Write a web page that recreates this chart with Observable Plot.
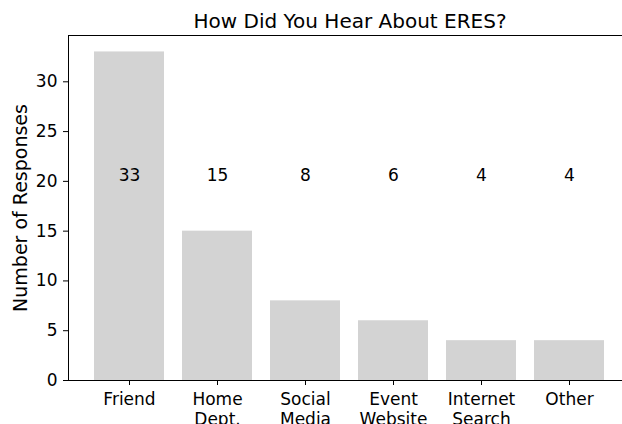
<!DOCTYPE html>
<html>
<head>
<meta charset="utf-8">
<script src="https://cdn.jsdelivr.net/npm/d3@7"></script>
<script src="https://cdn.jsdelivr.net/npm/@observablehq/plot@0.6"></script>
<style>
  html, body { margin: 0; padding: 0; background: white; }
  #wrap { width: 622px; height: 424px; overflow: hidden; }
  #wrap svg { max-width: none !important; }
</style>
</head>
<body>
<div id="wrap"></div>
<script>
const categories = ["Friend", "Home\nDept.", "Social\nMedia", "Event\nWebsite", "Internet\nSearch", "Other"];
const responses = [33, 15, 8, 6, 4, 4];
const yTicks = [0, 5, 10, 15, 20, 25, 30];
const labelLevel = 20;
const title = "How Did You Hear About ERES?";
const yLabel = "Number of Responses";

const data = categories.map((c, i) => ({category: c, count: responses[i]}));

const chart = Plot.plot({
  width: 640,
  height: 424,
  marginTop: 35,
  marginBottom: 44,
  marginLeft: 68,
  marginRight: 9,
  style: {fontFamily: "DejaVu Sans", fontSize: "17px", color: "black", background: "white", maxWidth: "none"},
  x: {type: "band", domain: categories, paddingInner: 0.2, paddingOuter: 0.29, label: null},
  y: {domain: [0, 34.65], label: null},
  marks: [
    Plot.barY(data, {x: "category", y: "count", fill: "#d3d3d3"}),
    Plot.text(data, {x: "category", y: () => labelLevel, text: d => String(d.count), lineAnchor: "bottom", fill: "black"}),
    Plot.frame({stroke: "black", strokeWidth: 1}),
    Plot.axisY({ticks: yTicks, tickSize: 5, tickPadding: 6, label: null}),
    Plot.axisX({tickSize: 5, tickPadding: 5, lineHeight: 1.2, label: null}),
    Plot.text([title], {frameAnchor: "top", lineAnchor: "bottom", dy: -8, fontSize: 20, fill: "black"}),
    Plot.text([yLabel], {frameAnchor: "left", rotate: -90, dx: -48, lineAnchor: "middle", textAnchor: "middle", fontSize: 19, fill: "black"})
  ]
});
document.getElementById("wrap").appendChild(chart);
</script>
</body>
</html>
